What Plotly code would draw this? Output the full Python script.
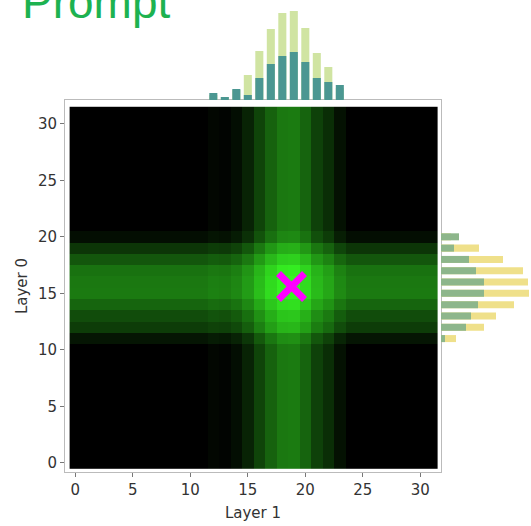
import plotly.graph_objects as go

# ---- data ----
layer1_bins = list(range(12, 24))          # columns (Layer 1) with activity
layer1_total = [5, 3, 10, 25, 49, 71, 87, 89, 72, 47, 33, 12]
layer1_part = [7, 3, 11, 5, 22, 36, 44, 48, 38, 22, 18, 15]

layer0_bins = list(range(11, 21))          # rows (Layer 0) with activity
layer0_total = [15, 43, 55, 73, 88, 87, 82, 62, 38, 10]
layer0_part = [4, 25, 30, 37, 43, 43, 35, 28, 13, 18]

grid = list(range(32))
peak_x = [18.8]
peak_y = [15.6]

tick_vals = [0, 5, 10, 15, 20, 25, 30]
title_text = "Prompt"

# ---- heatmap built from the two marginal profiles ----
col_prof = {c: 0 for c in grid}
for c, v in zip(layer1_bins, layer1_total):
    col_prof[c] = v
row_prof = {r: 0 for r in grid}
for r, v in zip(layer0_bins, layer0_total):
    row_prof[r] = v
z = [[row_prof[r] + col_prof[c] for c in grid] for r in grid]
zmax = max(layer1_total) + max(layer0_total)

W, H = 531, 526
fx0, fx1 = 65, 441
fy0, fy1 = 100, 472

fig = go.Figure()
fig.add_trace(go.Heatmap(
    x=grid, y=grid, z=z, zmin=0, zmax=zmax,
    colorscale=[[0, "#000000"], [1, "#36f522"]],
    showscale=False, xaxis="x", yaxis="y", hoverinfo="skip"))

fig.add_trace(go.Scatter(
    x=peak_x, y=peak_y, mode="markers", xaxis="x", yaxis="y",
    marker=dict(symbol="x-thin", size=26, line=dict(width=7, color="#ff00ff"),
                color="#ff00ff"),
    showlegend=False))

# top marginal
fig.add_trace(go.Bar(x=layer1_bins, y=layer1_total, width=0.7,
                     marker=dict(color="#d0e4a2", line=dict(width=0)),
                     xaxis="x", yaxis="y2", showlegend=False))
fig.add_trace(go.Bar(x=layer1_bins, y=layer1_part, width=0.7,
                     marker=dict(color="#4b9792", line=dict(width=0)),
                     xaxis="x", yaxis="y2", showlegend=False))
# right marginal
fig.add_trace(go.Bar(y=layer0_bins, x=layer0_total, width=0.62, orientation="h",
                     marker=dict(color="#efe08a", line=dict(width=0)),
                     xaxis="x2", yaxis="y", showlegend=False))
fig.add_trace(go.Bar(y=layer0_bins, x=layer0_part, width=0.62, orientation="h",
                     marker=dict(color="#8db68b", line=dict(width=0)),
                     xaxis="x2", yaxis="y", showlegend=False))

axis_font = dict(family="DejaVu Sans", size=15, color="#333333")
fig.update_layout(
    width=W, height=H,
    margin=dict(l=0, r=0, t=0, b=0),
    paper_bgcolor="white", plot_bgcolor="white",
    barmode="overlay", showlegend=False,
    xaxis=dict(domain=[fx0 / W, fx1 / W], range=[-0.9, 31.8], anchor="y",
               tickvals=tick_vals, ticks="outside", ticklen=4, tickcolor="#777",
               tickfont=axis_font, showgrid=False, zeroline=False,
               showline=True, linecolor="#bbbbbb", linewidth=1, mirror=True,
               title=dict(text="Layer 1", font=axis_font, standoff=9),
               automargin=False),
    yaxis=dict(domain=[(H - fy1) / H, (H - fy0) / H], range=[-0.8, 32.1], anchor="x",
               tickvals=tick_vals, ticks="outside", ticklen=4, tickcolor="#777",
               tickfont=axis_font, showgrid=False, zeroline=False,
               showline=True, linecolor="#bbbbbb", linewidth=1, mirror=True,
               title=dict(text="Layer 0", font=axis_font, standoff=6),
               automargin=False),
    yaxis2=dict(domain=[(H - fy0) / H, 1], range=[0, 100], anchor="x",
                visible=False),
    xaxis2=dict(domain=[fx1 / W, 1], range=[0, 90], anchor="y",
                visible=False),
    annotations=[dict(text=title_text, xref="paper", yref="paper",
                      x=20 / W, y=1 - 2 / H, xanchor="left", yanchor="middle",
                      showarrow=False,
                      font=dict(family="Liberation Sans", size=46, color="#1db250"))],
)

fig.write_html("out.html", config={"displayModeBar": False},
               post_script="document.body.style.margin='0';document.body.style.overflow='hidden';")
